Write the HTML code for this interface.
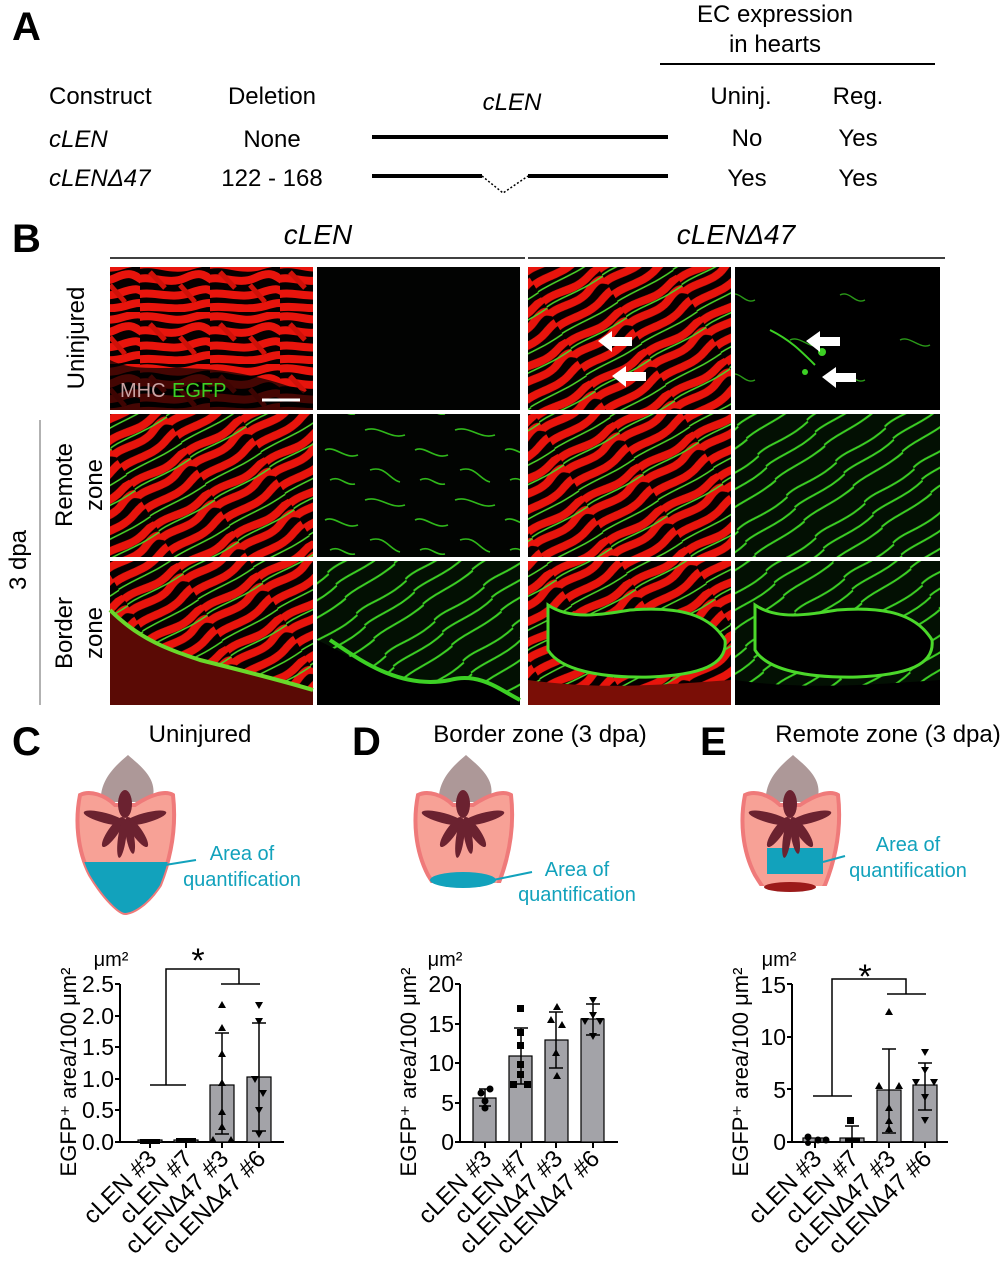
<!DOCTYPE html>
<html><head><meta charset="utf-8"><style>
html,body{margin:0;padding:0;background:#fff}
svg{display:block}
text{font-family:"Liberation Sans",sans-serif;fill:#000}
</style></head><body>
<svg width="1004" height="1280" viewBox="0 0 1004 1280" xmlns="http://www.w3.org/2000/svg">
<defs>
<pattern id="rf" width="70" height="52" patternUnits="userSpaceOnUse">
<rect width="70" height="52" fill="#050000"/>
<g fill="none" stroke="#e8140c" stroke-width="8" stroke-linecap="round">
<path d="M-5,6 C15,0 30,12 50,6 S72,2 80,8"/>
<path d="M-5,20 C10,14 28,26 45,18 S65,16 75,22"/>
<path d="M-5,35 C12,30 30,40 50,33 S70,30 78,36"/>
<path d="M-5,48 C15,44 35,52 55,46 S72,44 80,50"/>
</g>
<g fill="none" stroke="#d01008" stroke-width="5"><path d="M10,12 L25,28"/><path d="M40,25 L55,42"/></g>
</pattern>
<pattern id="rfg" width="64" height="48" patternUnits="userSpaceOnUse" patternTransform="rotate(-30)">
<rect width="64" height="48" fill="#050000"/>
<g fill="none" stroke="#e8140c" stroke-width="8" stroke-linecap="round">
<path d="M-5,6 C15,0 30,12 50,6 S70,2 75,8"/>
<path d="M-5,20 C10,14 28,26 45,18 S62,16 70,22"/>
<path d="M-5,35 C12,30 30,40 50,33 S65,30 72,36"/>
</g>
<g fill="none" stroke="#4bd82a" stroke-width="1.5"><path d="M-5,12 C15,8 30,16 70,12"/><path d="M-5,42 C20,40 40,46 70,42"/></g>
</pattern>
<pattern id="gf" width="90" height="70" patternUnits="userSpaceOnUse">
<rect width="90" height="70" fill="#020402"/>
<g fill="none" stroke="#2fb81a" stroke-width="1.6">
<path d="M5,10 C20,5 30,20 45,15"/><path d="M55,30 C65,25 75,40 88,35"/><path d="M10,50 C25,45 30,60 40,62"/><path d="M60,60 C70,55 75,66 85,64"/>
</g>
</pattern>
<pattern id="gf2" width="60" height="50" patternUnits="userSpaceOnUse" patternTransform="rotate(-35)">
<rect width="60" height="50" fill="#031003"/>
<g fill="none" stroke="#3cd024" stroke-width="2">
<path d="M-5,8 C15,2 30,14 65,8"/><path d="M-5,22 C15,18 35,28 65,22"/><path d="M-5,38 C15,34 35,42 65,38"/>
</g>
</pattern>
<pattern id="gs" width="110" height="80" patternUnits="userSpaceOnUse">
<rect width="110" height="80" fill="#000"/>
<g fill="none" stroke="#2a9a18" stroke-width="1.4"><path d="M20,20 C30,15 40,30 50,25"/><path d="M70,55 C80,50 85,65 95,60"/></g>
</pattern>
<g id="branch" fill="#6b2230">
<ellipse cx="0" cy="-6" rx="7" ry="14"/>
<ellipse cx="-20" cy="8" rx="22" ry="5" transform="rotate(15 -20 8)"/>
<ellipse cx="20" cy="8" rx="22" ry="5" transform="rotate(-15 20 8)"/>
<ellipse cx="-12" cy="22" rx="5" ry="18" transform="rotate(35 -12 22)"/>
<ellipse cx="12" cy="22" rx="5" ry="18" transform="rotate(-35 12 22)"/>
<ellipse cx="-3" cy="28" rx="4" ry="20" transform="rotate(8 -3 28)"/>
<ellipse cx="5" cy="26" rx="4" ry="18" transform="rotate(-10 5 26)"/>
</g>
<path id="body" d="M-45,-5 C-35,-10 -20,-5 -10,5 L10,5 C25,-5 40,-10 48,-5 C52,30 45,60 35,85 C20,108 5,113 0,113 C-5,113 -20,100 -35,75 C-48,50 -50,20 -45,-5 Z"/>
<path id="gray" d="M-24,2 C-26,-22 -5,-38 3,-45 C14,-35 36,-20 26,2 Z"/>
<clipPath id="bc"><use href="#body"/></clipPath>
</defs>

<text x="12" y="40" font-size="40" font-weight="bold">A</text>
<text x="775" y="22" font-size="24" text-anchor="middle">EC expression</text>
<text x="775" y="52" font-size="24" text-anchor="middle">in hearts</text>
<line x1="660" y1="64" x2="935" y2="64" stroke="#000" stroke-width="2"/>
<text x="49" y="104" font-size="24">Construct</text>
<text x="272" y="104" font-size="24" text-anchor="middle">Deletion</text>
<text x="512" y="110" font-size="24" font-style="italic" text-anchor="middle">cLEN</text>
<text x="741" y="104" font-size="24" text-anchor="middle">Uninj.</text>
<text x="858" y="104" font-size="24" text-anchor="middle">Reg.</text>
<text x="49" y="147" font-size="24" font-style="italic">cLEN</text>
<text x="272" y="147" font-size="24" text-anchor="middle">None</text>
<line x1="372" y1="137" x2="668" y2="137" stroke="#000" stroke-width="4"/>
<text x="747" y="146" font-size="24" text-anchor="middle">No</text>
<text x="858" y="146" font-size="24" text-anchor="middle">Yes</text>
<text x="49" y="186" font-size="24" font-style="italic">cLENΔ47</text>
<text x="272" y="186" font-size="24" text-anchor="middle">122 - 168</text>
<line x1="372" y1="176" x2="482" y2="176" stroke="#000" stroke-width="4"/>
<line x1="528" y1="176" x2="668" y2="176" stroke="#000" stroke-width="4"/>
<path d="M482,176 L503,193 L528,176" fill="none" stroke="#000" stroke-width="1.5" stroke-dasharray="2,2"/>
<text x="747" y="186" font-size="24" text-anchor="middle">Yes</text>
<text x="858" y="186" font-size="24" text-anchor="middle">Yes</text>

<text x="12" y="252" font-size="40" font-weight="bold">B</text>
<text x="318" y="244" font-size="28" font-style="italic" text-anchor="middle">cLEN</text>
<line x1="110" y1="258" x2="525" y2="258" stroke="#000" stroke-width="1.5"/>
<text x="736" y="244" font-size="28" font-style="italic" text-anchor="middle">cLENΔ47</text>
<line x1="528" y1="258" x2="945" y2="258" stroke="#000" stroke-width="1.5"/>

<rect x="110" y="267" width="203" height="143" fill="url(#rf)"/>
<rect x="317" y="267" width="203" height="143" fill="#020302"/>
<rect x="528" y="267" width="203" height="143" fill="url(#rfg)"/>
<rect x="735" y="267" width="205" height="143" fill="url(#gs)"/>
<path d="M110,360 C150,380 200,350 313,395 L313,410 L110,410Z" fill="#000" opacity="0.7"/>
<text x="120" y="397" font-size="20" style="fill:#c9a3a3">MHC</text>
<text x="172" y="397" font-size="20" style="fill:#3cd024">EGFP</text>
<line x1="262" y1="400" x2="300" y2="400" stroke="#fff" stroke-width="3"/>
<path d="M770,330 C790,340 800,350 815,365" fill="none" stroke="#3cd024" stroke-width="2"/>
<circle cx="822" cy="352" r="4" fill="#3cd024"/>
<circle cx="805" cy="372" r="3" fill="#3cd024"/>
<g fill="#fff">
<path d="M598,341 l14,-10 v6 h20 v9 h-20 v6z"/>
<path d="M612,376 l14,-10 v6 h20 v9 h-20 v6z"/>
<path d="M806,341 l14,-10 v6 h20 v9 h-20 v6z"/>
<path d="M822,377 l14,-10 v6 h20 v9 h-20 v6z"/>
</g>
<rect x="110" y="414" width="203" height="143" fill="url(#rfg)"/>
<rect x="317" y="414" width="203" height="143" fill="url(#gf)"/>
<rect x="528" y="414" width="203" height="143" fill="url(#rfg)"/>
<rect x="735" y="414" width="205" height="143" fill="url(#gf2)"/>
<rect x="110" y="561" width="203" height="144" fill="url(#rfg)"/>
<path d="M110,610 C140,640 170,650 200,660 C240,670 280,680 313,690 L313,705 L110,705Z" fill="#5a0a05"/>
<path d="M110,610 C140,640 170,650 200,660 C240,670 280,680 313,690" fill="none" stroke="#6ad82a" stroke-width="4"/>
<rect x="317" y="561" width="203" height="144" fill="url(#gf2)"/>
<path d="M317,640 C360,660 400,690 450,680 C480,672 500,690 520,700 L520,705 L317,705Z" fill="#000"/>
<path d="M330,640 C360,660 400,690 450,680 C480,672 500,690 520,700" fill="none" stroke="#3cd024" stroke-width="4"/>
<rect x="528" y="561" width="203" height="144" fill="url(#rfg)"/>
<path d="M548,605 C570,620 600,615 630,610 C680,606 710,615 725,640 C728,665 700,675 650,677 C600,678 560,670 548,650Z" fill="#000" stroke="#4bd82a" stroke-width="3"/>
<path d="M528,680 C600,690 660,685 731,680 L731,705 L528,705Z" fill="#7a0e06"/>
<rect x="735" y="561" width="205" height="144" fill="url(#gf2)"/>
<path d="M755,605 C777,620 807,615 837,610 C887,606 917,615 932,640 C935,665 907,675 857,677 C807,678 767,670 755,650Z" fill="#000" stroke="#4bd82a" stroke-width="3"/>
<path d="M735,680 C800,690 870,685 940,680 L940,705 L735,705Z" fill="#000"/>

<text transform="translate(84,338) rotate(-90)" font-size="24" text-anchor="middle">Uninjured</text>
<text transform="translate(72,485) rotate(-90)" font-size="24" text-anchor="middle">Remote</text>
<text transform="translate(102,485) rotate(-90)" font-size="24" text-anchor="middle">zone</text>
<text transform="translate(72,633) rotate(-90)" font-size="24" text-anchor="middle">Border</text>
<text transform="translate(102,633) rotate(-90)" font-size="24" text-anchor="middle">zone</text>
<text transform="translate(26,560) rotate(-90)" font-size="24" text-anchor="middle">3 dpa</text>
<line x1="40" y1="420" x2="40" y2="705" stroke="#999" stroke-width="1.5"/>

<text x="12" y="755" font-size="40" font-weight="bold">C</text>
<text x="200" y="742" font-size="24" text-anchor="middle">Uninjured</text>
<text x="352" y="755" font-size="40" font-weight="bold">D</text>
<text x="540" y="742" font-size="24" text-anchor="middle">Border zone (3 dpa)</text>
<text x="700" y="755" font-size="40" font-weight="bold">E</text>
<text x="888" y="742" font-size="24" text-anchor="middle">Remote zone (3 dpa)</text>

<g transform="translate(125,800)">
<use href="#gray" fill="#ad9898"/>
<use href="#body" fill="#f7a196" stroke="#ef7a7a" stroke-width="4"/>
<rect x="-60" y="62" width="120" height="60" fill="#12a2bc" clip-path="url(#bc)"/>
<use href="#branch" y="10"/>
</g>
<line x1="165" y1="865" x2="196" y2="860" stroke="#12a2bc" stroke-width="2"/>
<text x="242" y="860" font-size="20" text-anchor="middle" style="fill:#12a2bc">Area of</text>
<text x="242" y="886" font-size="20" text-anchor="middle" style="fill:#12a2bc">quantification</text>

<g transform="translate(463,800)">
<use href="#gray" fill="#ad9898"/>
<clipPath id="dc"><rect x="-60" y="-10" width="120" height="93"/></clipPath>
<g clip-path="url(#dc)"><use href="#body" fill="#f7a196" stroke="#ef7a7a" stroke-width="4"/></g>
<ellipse cx="0" cy="80" rx="33" ry="8" fill="#12a2bc"/>
<use href="#branch" y="10"/>
</g>
<line x1="493" y1="880" x2="532" y2="872" stroke="#12a2bc" stroke-width="2"/>
<text x="577" y="876" font-size="20" text-anchor="middle" style="fill:#12a2bc">Area of</text>
<text x="577" y="901" font-size="20" text-anchor="middle" style="fill:#12a2bc">quantification</text>

<g transform="translate(790,800)">
<use href="#gray" fill="#ad9898"/>
<clipPath id="ec"><rect x="-60" y="-10" width="120" height="96"/></clipPath>
<g clip-path="url(#ec)"><use href="#body" fill="#f7a196" stroke="#ef7a7a" stroke-width="4"/></g>
<ellipse cx="0" cy="87" rx="26" ry="5" fill="#9b1a1a"/>
<rect x="-23" y="48" width="56" height="26" fill="#12a2bc"/>
<use href="#branch" y="10"/>
</g>
<line x1="823" y1="862" x2="845" y2="856" stroke="#12a2bc" stroke-width="2"/>
<text x="908" y="851" font-size="20" text-anchor="middle" style="fill:#12a2bc">Area of</text>
<text x="908" y="877" font-size="20" text-anchor="middle" style="fill:#12a2bc">quantification</text>

<!-- Chart C -->
<g>
<text x="111" y="966" font-size="20" text-anchor="middle">μm²</text>
<text transform="translate(76,1072) rotate(-90)" font-size="22" text-anchor="middle">EGFP⁺ area/100 μm²</text>
<g text-anchor="end" font-size="23">
<text x="114" y="1150">0.0</text><text x="114" y="1118">0.5</text><text x="114" y="1087">1.0</text><text x="114" y="1055">1.5</text><text x="114" y="1024">2.0</text><text x="114" y="992">2.5</text>
</g>
<g stroke="#000" stroke-width="2">
<line x1="120" y1="984" x2="120" y2="1143"/><line x1="119" y1="1142" x2="284" y2="1142"/>
<line x1="115" y1="1142" x2="120" y2="1142"/><line x1="115" y1="1110" x2="120" y2="1110"/><line x1="115" y1="1079" x2="120" y2="1079"/><line x1="115" y1="1047" x2="120" y2="1047"/><line x1="115" y1="1016" x2="120" y2="1016"/><line x1="115" y1="984" x2="120" y2="984"/>
<line x1="150" y1="1142" x2="150" y2="1148"/><line x1="186" y1="1142" x2="186" y2="1148"/><line x1="222" y1="1142" x2="222" y2="1148"/><line x1="259" y1="1142" x2="259" y2="1148"/>
</g>
<g fill="#a3a3a8" stroke="#000" stroke-width="1.2">
<rect x="138" y="1140" width="24" height="2"/><rect x="174" y="1140" width="24" height="2"/>
<rect x="210" y="1085" width="24" height="57"/><rect x="247" y="1077" width="24" height="65"/>
</g>
<g stroke="#000" stroke-width="1.5" fill="none">
<line x1="222" y1="1033" x2="222" y2="1134"/><line x1="215" y1="1033" x2="229" y2="1033"/><line x1="215" y1="1134" x2="229" y2="1134"/>
<line x1="259" y1="1023" x2="259" y2="1131"/><line x1="252" y1="1023" x2="266" y2="1023"/><line x1="252" y1="1131" x2="266" y2="1131"/>
<path d="M150,1085 H186 M166,1085 V969 H239 V984 M221,984 H260"/>
</g>
<rect x="140" y="1139" width="20" height="5" fill="#000"/><rect x="176" y="1138" width="20" height="5" fill="#000"/>
<g fill="#000">
<path d="M222,1001 l-4,7 h8z M222,1024 l-4,7 h8z M222,1050 l-4,7 h8z M222,1079 l-4,7 h8z M222,1108 l-4,7 h8z M222,1123 l-4,7 h8z M213,1136 l-4,7 h8z M231,1136 l-4,7 h8z"/>
<path d="M259,1009 l-4,-7 h8z M259,1025 l-4,-7 h8z M255,1083 l-4,-7 h8z M263,1097 l-4,-7 h8z M259,1114 l-4,-7 h8z M259,1138 l-4,-7 h8z"/>
</g>
<text x="198" y="972" font-size="34" text-anchor="middle">*</text>
<g font-size="24" text-anchor="end">
<text transform="translate(158,1160) rotate(-45)">cLEN #3</text>
<text transform="translate(194,1160) rotate(-45)">cLEN #7</text>
<text transform="translate(230,1160) rotate(-45)">cLENΔ47 #3</text>
<text transform="translate(267,1160) rotate(-45)">cLENΔ47 #6</text>
</g>
</g>

<!-- Chart D -->
<g>
<text x="445" y="966" font-size="20" text-anchor="middle">μm²</text>
<text transform="translate(416,1072) rotate(-90)" font-size="22" text-anchor="middle">EGFP⁺ area/100 μm²</text>
<g text-anchor="end" font-size="23">
<text x="454" y="1150">0</text><text x="454" y="1111">5</text><text x="454" y="1071">10</text><text x="454" y="1032">15</text><text x="454" y="992">20</text>
</g>
<g stroke="#000" stroke-width="2">
<line x1="460" y1="984" x2="460" y2="1143"/><line x1="459" y1="1142" x2="618" y2="1142"/>
<line x1="455" y1="1142" x2="460" y2="1142"/><line x1="455" y1="1103" x2="460" y2="1103"/><line x1="455" y1="1063" x2="460" y2="1063"/><line x1="455" y1="1024" x2="460" y2="1024"/><line x1="455" y1="984" x2="460" y2="984"/>
<line x1="485" y1="1142" x2="485" y2="1148"/><line x1="521" y1="1142" x2="521" y2="1148"/><line x1="556" y1="1142" x2="556" y2="1148"/><line x1="593" y1="1142" x2="593" y2="1148"/>
</g>
<g fill="#a3a3a8" stroke="#000" stroke-width="1.2">
<rect x="473" y="1098" width="23" height="44"/><rect x="509" y="1056" width="23" height="86"/><rect x="545" y="1040" width="23" height="102"/><rect x="581" y="1019" width="23" height="123"/>
</g>
<g stroke="#000" stroke-width="1.5">
<line x1="485" y1="1089" x2="485" y2="1106"/><line x1="479" y1="1089" x2="491" y2="1089"/><line x1="479" y1="1106" x2="491" y2="1106"/>
<line x1="521" y1="1028" x2="521" y2="1084"/><line x1="514" y1="1028" x2="528" y2="1028"/><line x1="514" y1="1084" x2="528" y2="1084"/>
<line x1="556" y1="1012" x2="556" y2="1068"/><line x1="549" y1="1012" x2="563" y2="1012"/><line x1="549" y1="1068" x2="563" y2="1068"/>
<line x1="593" y1="1004" x2="593" y2="1035"/><line x1="586" y1="1004" x2="600" y2="1004"/><line x1="586" y1="1035" x2="600" y2="1035"/>
</g>
<g fill="#000">
<circle cx="481" cy="1093" r="3.5"/><circle cx="490" cy="1089" r="3.5"/><circle cx="485" cy="1101" r="3.5"/><circle cx="485" cy="1108" r="3.5"/>
<rect x="517" y="1005" width="7" height="7"/><rect x="517" y="1029" width="7" height="7"/><rect x="517" y="1042" width="7" height="7"/><rect x="517" y="1061" width="7" height="7"/><rect x="517" y="1071" width="7" height="7"/><rect x="510" y="1081" width="7" height="7"/><rect x="524" y="1081" width="7" height="7"/>
<path d="M557,1003 l-4,7 h8z M551,1016 l-4,7 h8z M562,1021 l-4,7 h8z M556,1049 l-4,7 h8z M557,1072 l-4,7 h8z"/>
<path d="M593,1004 l-4,-7 h8z M593,1019 l-4,-7 h8z M585,1025 l-4,-7 h8z M600,1025 l-4,-7 h8z M593,1040 l-4,-7 h8z"/>
</g>
<g font-size="24" text-anchor="end">
<text transform="translate(493,1160) rotate(-45)">cLEN #3</text>
<text transform="translate(529,1160) rotate(-45)">cLEN #7</text>
<text transform="translate(564,1160) rotate(-45)">cLENΔ47 #3</text>
<text transform="translate(601,1160) rotate(-45)">cLENΔ47 #6</text>
</g>
</g>

<!-- Chart E -->
<g>
<text x="779" y="966" font-size="20" text-anchor="middle">μm²</text>
<text transform="translate(748,1072) rotate(-90)" font-size="22" text-anchor="middle">EGFP⁺ area/100 μm²</text>
<g text-anchor="end" font-size="23">
<text x="786" y="1150">0</text><text x="786" y="1098">5</text><text x="786" y="1045">10</text><text x="786" y="993">15</text>
</g>
<g stroke="#000" stroke-width="2">
<line x1="792" y1="984" x2="792" y2="1143"/><line x1="791" y1="1142" x2="948" y2="1142"/>
<line x1="787" y1="1142" x2="792" y2="1142"/><line x1="787" y1="1089" x2="792" y2="1089"/><line x1="787" y1="1037" x2="792" y2="1037"/><line x1="787" y1="984" x2="792" y2="984"/>
<line x1="815" y1="1142" x2="815" y2="1148"/><line x1="852" y1="1142" x2="852" y2="1148"/><line x1="889" y1="1142" x2="889" y2="1148"/><line x1="925" y1="1142" x2="925" y2="1148"/>
</g>
<g fill="#a3a3a8" stroke="#000" stroke-width="1.2">
<rect x="803" y="1138" width="24" height="4"/><rect x="840" y="1138" width="24" height="4"/><rect x="877" y="1090" width="24" height="52"/><rect x="913" y="1085" width="24" height="57"/>
</g>
<g stroke="#000" stroke-width="1.5" fill="none">
<line x1="852" y1="1126" x2="852" y2="1142"/><line x1="845" y1="1126" x2="859" y2="1126"/>
<line x1="889" y1="1049" x2="889" y2="1133"/><line x1="882" y1="1049" x2="896" y2="1049"/><line x1="882" y1="1133" x2="896" y2="1133"/>
<line x1="925" y1="1063" x2="925" y2="1110"/><line x1="918" y1="1063" x2="932" y2="1063"/><line x1="918" y1="1110" x2="932" y2="1110"/>
<path d="M813,1096 H852 M832,1096 V979 H906 V994 M887,994 H926"/>
</g>
<g fill="#000">
<circle cx="808" cy="1137" r="3.5"/><circle cx="818" cy="1140" r="3.5"/><circle cx="826" cy="1140" r="3.5"/><circle cx="808" cy="1143" r="3"/>
<rect x="845" y="1138" width="15" height="5"/><rect x="847" y="1117" width="7" height="7"/>
<path d="M889,1008 l-4,7 h8z M879,1082 l-4,7 h8z M899,1082 l-4,7 h8z M889,1104 l-4,7 h8z M889,1117 l-4,7 h8z M889,1125 l-4,7 h8z"/>
<path d="M925,1056 l-4,-7 h8z M925,1074 l-4,-7 h8z M916,1086 l-4,-7 h8z M934,1086 l-4,-7 h8z M925,1101 l-4,-7 h8z M925,1124 l-4,-7 h8z"/>
</g>
<text x="865" y="988" font-size="34" text-anchor="middle">*</text>
<g font-size="24" text-anchor="end">
<text transform="translate(823,1160) rotate(-45)">cLEN #3</text>
<text transform="translate(860,1160) rotate(-45)">cLEN #7</text>
<text transform="translate(897,1160) rotate(-45)">cLENΔ47 #3</text>
<text transform="translate(933,1160) rotate(-45)">cLENΔ47 #6</text>
</g>
</g>
</svg>
</body></html>
